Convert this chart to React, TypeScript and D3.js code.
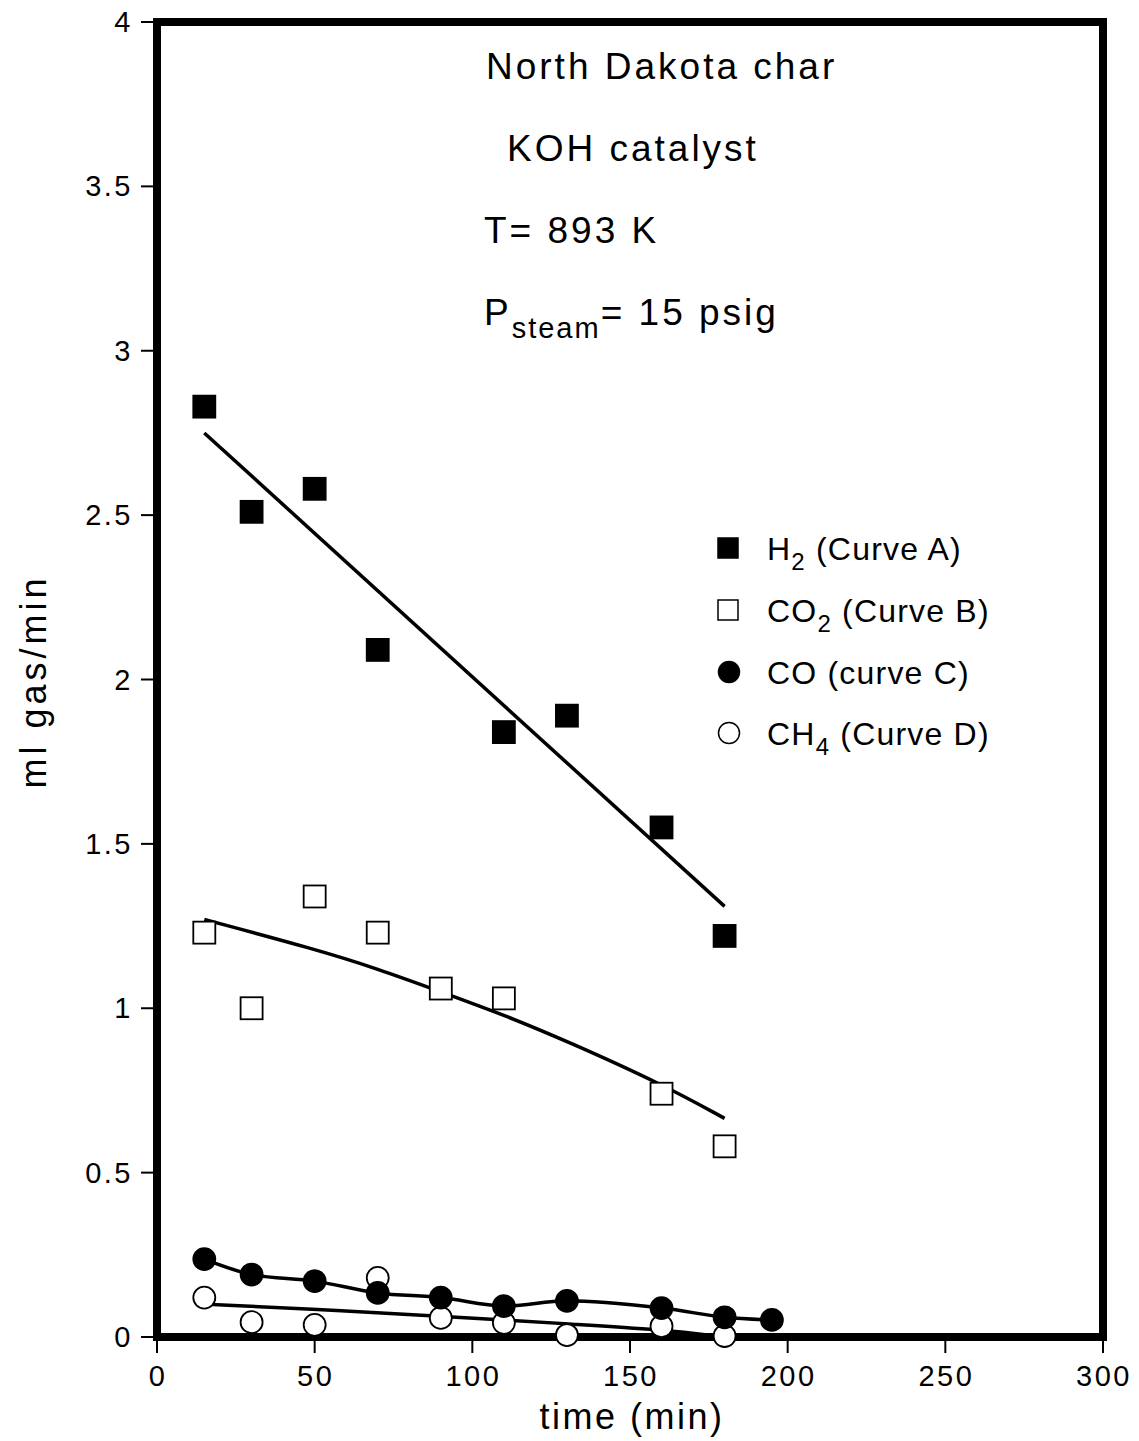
import React, { useEffect, useRef } from "react";
import * as d3 from "d3";

// measured times (min)
const h2Time = [15, 30, 50, 70, 110, 130, 160, 180];
const h2Vals = [2.83, 2.51, 2.58, 2.09, 1.84, 1.89, 1.55, 1.22];
const co2Time = [15, 30, 50, 70, 90, 110, 160, 180];
const co2Vals = [1.23, 1.0, 1.34, 1.23, 1.06, 1.03, 0.74, 0.58];
const coTime = [15, 30, 50, 70, 90, 110, 130, 160, 180, 195];
const coVals = [0.237, 0.19, 0.17, 0.134, 0.12, 0.094, 0.11, 0.088, 0.06, 0.052];
const ch4Time = [15, 30, 50, 70, 90, 110, 130, 160, 180];
const ch4Vals = [0.12, 0.045, 0.037, 0.18, 0.058, 0.043, 0.006, 0.033, 0.003];

// fitted curves A, B, D (C is drawn through the points)
const curveATime = [15, 180];
const curveAVals = [2.75, 1.31];
const curveBTime = [15, 50, 70, 90, 110, 130, 160, 180];
const curveBVals = [1.27, 1.18, 1.12, 1.05, 0.98, 0.9, 0.77, 0.665];
const curveDTime = [15, 50, 90, 110, 130, 160, 180];
const curveDVals = [0.1, 0.085, 0.063, 0.052, 0.04, 0.023, 0.0];

const xTicks = [0, 50, 100, 150, 200, 250, 300];
const yTicks = [0, 0.5, 1, 1.5, 2, 2.5, 3, 3.5, 4];

const legendLabels = [
  { main: "H", sub: "2", rest: " (Curve A)" },
  { main: "CO", sub: "2", rest: " (Curve B)" },
  { main: "CO (curve C)", sub: "", rest: "" },
  { main: "CH", sub: "4", rest: " (Curve D)" },
];

const FONT = "'Liberation Sans', Arial, Helvetica, sans-serif";

const App = () => {
  const svgRef = useRef<SVGSVGElement | null>(null);

  useEffect(() => {
    const width = 1139;
    const height = 1441;
    const margin = { top: 22, bottom: 104, left: 157, right: 36 };

    const svg = d3.select(svgRef.current)
      .attr("width", width)
      .attr("height", height)
      .attr("viewBox", [0, 0, width, height].join(" "))
      .style("font-family", FONT);
    svg.selectAll("*").remove();

    const x = d3.scaleLinear().domain([0, 300]).range([margin.left, width - margin.right]);
    const y = d3.scaleLinear().domain([0, 4]).range([height - margin.bottom, margin.top]);

    // frame
    svg.append("rect")
      .attr("x", x(0)).attr("y", y(4))
      .attr("width", x(300) - x(0)).attr("height", y(0) - y(4))
      .attr("fill", "none").attr("stroke", "#000").attr("stroke-width", 8);

    // y axis ticks
    const yAxis = svg.append("g");
    yAxis.selectAll("line").data(yTicks).enter().append("line")
      .attr("x1", x(0) - 16).attr("x2", x(0))
      .attr("y1", d => y(d)).attr("y2", d => y(d))
      .attr("stroke", "#000").attr("stroke-width", 2);
    yAxis.selectAll("text").data(yTicks).enter().append("text")
      .attr("x", x(0) - 24).attr("y", d => y(d) + 10)
      .attr("text-anchor", "end").attr("font-size", 29)
      .attr("letter-spacing", 2.5)
      .text(d => String(d));

    // x axis ticks
    const xAxis = svg.append("g");
    xAxis.selectAll("line").data(xTicks).enter().append("line")
      .attr("x1", d => x(d)).attr("x2", d => x(d))
      .attr("y1", y(0)).attr("y2", y(0) + 16)
      .attr("stroke", "#000").attr("stroke-width", 2);
    xAxis.selectAll("text").data(xTicks).enter().append("text")
      .attr("x", d => x(d) + 1).attr("y", y(0) + 49)
      .attr("text-anchor", "middle").attr("font-size", 29)
      .attr("letter-spacing", 2.5)
      .text(d => String(d));

    // axis titles
    svg.append("text")
      .attr("x", x(150) + 2).attr("y", 1429)
      .attr("text-anchor", "middle").attr("font-size", 36)
      .attr("letter-spacing", 2.5)
      .text("time (min)");
    svg.append("text")
      .attr("transform", `translate(46, ${y(2) + 2}) rotate(-90)`)
      .attr("text-anchor", "middle").attr("font-size", 36)
      .attr("letter-spacing", 4)
      .text("ml gas/min");

    // lines
    const drawLine = (ts: number[], vs: number[], curve: d3.CurveFactory) => {
      svg.append("path")
        .attr("d", d3.line<number>()
          .x(d => x(d))
          .y((d, i) => y(vs[i]))
          .curve(curve)(ts) as string)
        .attr("fill", "none").attr("stroke", "#000").attr("stroke-width", 3.5);
    };
    drawLine(curveATime, curveAVals, d3.curveLinear);
    drawLine(curveBTime, curveBVals, d3.curveBasis);
    drawLine(coTime, coVals, d3.curveCatmullRom);
    drawLine(curveDTime, curveDVals, d3.curveBasis);

    // markers
    const sq = 22;
    const r = 11;
    const drawSquares = (ts: number[], vs: number[], fill: string) => {
      svg.append("g").selectAll("rect").data(ts).enter().append("rect")
        .attr("x", d => x(d) - sq / 2)
        .attr("y", (d, i) => y(vs[i]) - sq / 2)
        .attr("width", sq).attr("height", sq)
        .attr("fill", fill).attr("stroke", "#000").attr("stroke-width", 1.8);
    };
    const drawCircles = (ts: number[], vs: number[], fill: string) => {
      svg.append("g").selectAll("circle").data(ts).enter().append("circle")
        .attr("cx", d => x(d))
        .attr("cy", (d, i) => y(vs[i]))
        .attr("r", r)
        .attr("fill", fill).attr("stroke", "#000").attr("stroke-width", 1.8);
    };
    drawCircles(ch4Time, ch4Vals, "#fff");
    drawCircles(coTime, coVals, "#000");
    drawSquares(co2Time, co2Vals, "#fff");
    drawSquares(h2Time, h2Vals, "#000");

    // legend
    const legend = svg.append("g");
    const legY = [548, 610, 672, 733];
    legend.selectAll("g").data(legendLabels).enter().append("g")
      .each(function (d, i) {
        const g = d3.select(this);
        if (i < 2) {
          g.append("rect")
            .attr("x", 728 - 10).attr("y", legY[i] - 10)
            .attr("width", 20).attr("height", 20)
            .attr("fill", i === 0 ? "#000" : "#fff")
            .attr("stroke", "#000").attr("stroke-width", 1.5);
        } else {
          g.append("circle")
            .attr("cx", 729).attr("cy", legY[i]).attr("r", 10.5)
            .attr("fill", i === 2 ? "#000" : "#fff")
            .attr("stroke", "#000").attr("stroke-width", 1.5);
        }
        const t = g.append("text")
          .attr("x", 767).attr("y", legY[i] + 12)
          .attr("font-size", 32).attr("letter-spacing", 1.2);
        t.append("tspan").text(d.main);
        if (d.sub) {
          t.append("tspan").attr("dy", 10).attr("font-size", 24).text(d.sub);
          t.append("tspan").attr("dy", -10).text(d.rest);
        }
      });

    // annotation
    const note = svg.append("g").attr("font-size", 37).attr("letter-spacing", 3);
    note.append("text").attr("x", 486).attr("y", 79).text("North Dakota char");
    note.append("text").attr("x", 507).attr("y", 161).text("KOH catalyst");
    note.append("text").attr("x", 484).attr("y", 243).text("T= 893 K");
    const p = note.append("text").attr("x", 484).attr("y", 325);
    p.append("tspan").text("P");
    p.append("tspan").attr("dy", 13).attr("font-size", 29).attr("letter-spacing", 2).text("steam");
    p.append("tspan").attr("dy", -13).text("= 15 psig");
  }, []);

  return (
    <div style={{ position: "absolute", left: 0, top: 0 }}>
      <svg ref={svgRef}></svg>
    </div>
  );
};

export default App;
